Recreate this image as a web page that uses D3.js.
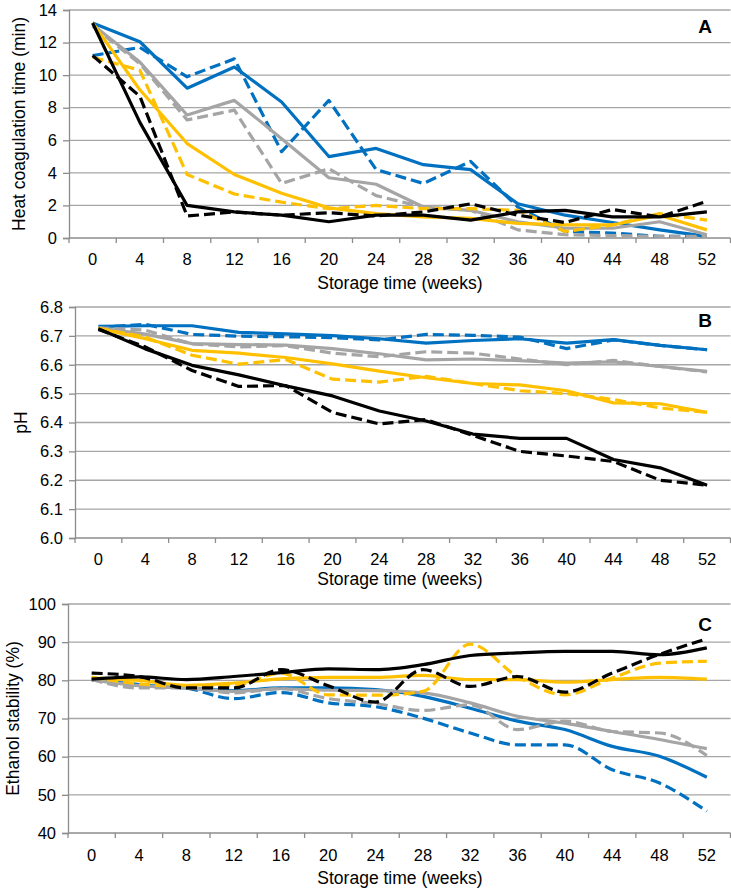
<!DOCTYPE html>
<html>
<head>
<meta charset="utf-8">
<script src="https://cdn.jsdelivr.net/npm/d3@7"></script>
<style>
  html, body { margin: 0; padding: 0; background: #fff; }
  svg { display: block; font-family: "Liberation Sans", Arial, sans-serif; }
</style>
</head>
<body>
<svg id="chart" width="731" height="892"></svg>
<script>
// ---------- DATA ----------
const weeks = [0, 4, 8, 12, 16, 20, 24, 28, 32, 36, 40, 44, 48, 52];

// Panel A: heat coagulation time (min)
const hctBlueSolid   = [13.2, 12.05, 9.2, 10.5, 8.35, 5.0, 5.5, 4.5, 4.2, 2.1, 1.4, 0.95, 0.5, 0.1];
const hctBlueDashed  = [11.2, 11.7, 9.9, 11.0, 5.3, 8.45, 4.2, 3.35, 4.7, 1.9, 0.4, 0.3, 0.1, 0.1];
const hctGraySolid   = [13.1, 10.8, 7.55, 8.45, 6.1, 3.7, 3.3, 1.9, 1.7, 1.0, 0.6, 0.6, 1.0, 0.2];
const hctGrayDashed  = [13.0, 10.7, 7.25, 7.85, 3.35, 4.25, 2.6, 1.9, 1.7, 0.5, 0.2, 0.15, 0.1, 0.1];
const hctYellowSolid = [13.2, 9.1, 5.8, 3.9, 2.75, 1.85, 1.5, 1.3, 1.2, 0.9, 0.8, 0.8, 1.4, 0.5];
const hctYellowDashed= [11.1, 10.3, 3.9, 2.7, 2.2, 1.8, 2.0, 1.8, 1.8, 1.7, 0.4, 0.8, 1.5, 1.1];
const hctBlackSolid  = [13.2, 7.1, 2.0, 1.6, 1.4, 1.0, 1.4, 1.4, 1.1, 1.6, 1.7, 1.3, 1.3, 1.6];
const hctBlackDashed = [11.2, 8.7, 1.35, 1.6, 1.4, 1.55, 1.35, 1.6, 2.1, 1.4, 0.95, 1.75, 1.3, 2.25];

// Panel B: pH
const phBlueSolid   = [6.733, 6.735, 6.735, 6.712, 6.707, 6.701, 6.69, 6.675, 6.684, 6.69, 6.675, 6.687, 6.667, 6.652];
const phBlueDashed  = [6.73, 6.74, 6.705, 6.699, 6.697, 6.694, 6.686, 6.705, 6.702, 6.696, 6.656, 6.686, 6.667, 6.652];
const phGraySolid   = [6.728, 6.706, 6.673, 6.67, 6.668, 6.656, 6.638, 6.617, 6.62, 6.614, 6.606, 6.61, 6.594, 6.577];
const phGrayDashed  = [6.728, 6.72, 6.672, 6.662, 6.666, 6.64, 6.628, 6.645, 6.64, 6.62, 6.6, 6.615, 6.594, 6.575];
const phYellowSolid = [6.726, 6.69, 6.65, 6.64, 6.625, 6.603, 6.578, 6.555, 6.535, 6.53, 6.51, 6.468, 6.465, 6.435];
const phYellowDashed= [6.726, 6.696, 6.633, 6.602, 6.618, 6.55, 6.54, 6.56, 6.535, 6.51, 6.5, 6.48, 6.45, 6.435];
const phBlackSolid  = [6.725, 6.655, 6.598, 6.565, 6.527, 6.492, 6.44, 6.405, 6.36, 6.345, 6.345, 6.272, 6.243, 6.183];
const phBlackDashed = [6.722, 6.662, 6.58, 6.525, 6.528, 6.435, 6.395, 6.41, 6.355, 6.3, 6.284, 6.265, 6.2, 6.183];

// Panel C: ethanol stability (%)
const esBlueSolid   = [80.2, 78.9, 78.0, 77.3, 78.0, 78.0, 77.6, 75.8, 72.7, 69.3, 67.1, 62.7, 60.1, 54.6];
const esBlueDashed  = [80.2, 78.9, 78.0, 75.2, 76.8, 74.1, 73.1, 70.1, 66.2, 63.1, 63.1, 56.6, 53.1, 45.7];
const esGraySolid   = [80.2, 78.6, 78.0, 77.1, 77.8, 77.4, 77.3, 76.7, 74.1, 70.6, 68.8, 66.6, 64.5, 62.1];
const esGrayDashed  = [80.2, 78.0, 78.0, 76.7, 77.8, 75.2, 73.9, 72.1, 73.6, 67.1, 69.3, 66.6, 66.2, 60.3];
const esYellowSolid = [80.6, 80.0, 78.7, 79.3, 80.4, 80.8, 80.8, 81.3, 80.2, 80.2, 79.5, 80.2, 80.8, 80.3];
const esYellowDashed= [80.8, 79.1, 78.4, 78.6, 81.9, 76.2, 76.1, 77.1, 89.5, 81.0, 76.2, 80.6, 84.5, 85.0];
const esBlackSolid  = [80.3, 80.9, 80.2, 81.0, 82.0, 83.0, 82.8, 84.1, 86.5, 87.2, 87.6, 87.6, 86.7, 88.5];
const esBlackDashed = [81.9, 81.0, 78.0, 78.0, 82.8, 78.6, 74.3, 82.8, 78.4, 81.0, 76.9, 81.9, 86.8, 90.9];

const ticksA = [0, 2, 4, 6, 8, 10, 12, 14];
const ticksB = [6.0, 6.1, 6.2, 6.3, 6.4, 6.5, 6.6, 6.7, 6.8];
const ticksC = [40, 50, 60, 70, 80, 90, 100];

const xTitle = "Storage time (weeks)";

// ---------- STYLE ----------
const BLUE = "#0070C0", GRAY = "#A5A5A5", YELLOW = "#FFC000", BLACK = "#000000";
const GRID = "#A6A6A6", AXIS = "#8C8C8C";

const svg = d3.select("#chart");

function panel(cfg) {
  const g = svg.append("g");
  const x = d3.scaleBand().domain(weeks).range([cfg.left, cfg.right]).paddingInner(0).paddingOuter(0);
  const y = d3.scaleLinear().domain(cfg.domain).range([cfg.bottom, cfg.top]);

  // gridlines
  g.append("g").selectAll("line").data(cfg.ticks.slice(1)).join("line")
    .attr("x1", cfg.left).attr("x2", cfg.right)
    .attr("y1", d => y(d)).attr("y2", d => y(d))
    .attr("stroke", GRID).attr("stroke-width", 1.3);

  // y axis
  const ya = g.append("g").attr("transform", `translate(${cfg.left},0)`)
    .call(d3.axisLeft(y).tickValues(cfg.ticks).tickFormat(cfg.fmt).tickSize(6).tickPadding(6));
  ya.select(".domain").attr("stroke", AXIS).attr("stroke-width", 1.3);
  ya.selectAll(".tick line").attr("stroke", AXIS).attr("stroke-width", 1.3);
  ya.selectAll("text").attr("font-size", 16.5).attr("fill", "#000")
    .attr("font-family", "Liberation Sans, Arial, sans-serif");

  // x axis (labels centered on categories, tick marks between categories)
  const xa = g.append("g").attr("transform", `translate(0,${cfg.bottom})`)
    .call(d3.axisBottom(x).tickSize(0).tickPadding(cfg.xPad));
  xa.select(".domain").remove();
  xa.selectAll("text").attr("font-size", 16.5).attr("fill", "#000")
    .attr("font-family", "Liberation Sans, Arial, sans-serif");
  g.append("line").attr("x1", cfg.left).attr("x2", cfg.right)
    .attr("y1", cfg.bottom).attr("y2", cfg.bottom)
    .attr("stroke", AXIS).attr("stroke-width", 1.3);
  const edges = weeks.map(w => x(w)).concat([x(weeks[weeks.length - 1]) + x.bandwidth()]);
  g.append("g").selectAll("line").data(edges).join("line")
    .attr("x1", d => d).attr("x2", d => d)
    .attr("y1", cfg.bottom).attr("y2", cfg.bottom + 5)
    .attr("stroke", AXIS).attr("stroke-width", 1.3);

  // series
  const line = d3.line()
    .x((d, i) => x(weeks[i]) + x.bandwidth() / 2)
    .y(d => y(d))
    .curve(cfg.curve);
  cfg.series.forEach(s => {
    g.append("path").datum(s.values)
      .attr("d", line)
      .attr("fill", "none")
      .attr("stroke", s.color)
      .attr("stroke-width", 3.2)
      .attr("stroke-linejoin", "round")
      .attr("stroke-dasharray", s.dashed ? "11,5" : null);
  });

  // titles
  g.append("text").attr("x", 400).attr("y", cfg.xTitleY)
    .attr("text-anchor", "middle").attr("font-size", 17.5).text(xTitle);
  g.append("text")
    .attr("transform", `translate(${cfg.yTitleX},${(cfg.top + cfg.bottom) / 2}) rotate(-90)`)
    .attr("text-anchor", "middle").attr("font-size", 17.5).text(cfg.yTitle);
  g.append("text").attr("x", 705).attr("y", cfg.letterY)
    .attr("text-anchor", "middle").attr("font-size", 19).attr("font-weight", "bold").text(cfg.letter);
}

panel({
  left: 69, right: 730.5, top: 10, bottom: 238,
  domain: [0, 14], ticks: ticksA, fmt: d3.format("d"),
  xPad: 15, xTitleY: 289, yTitleX: 25, letterY: 33, letter: "A",
  yTitle: "Heat coagulation time (min)", curve: d3.curveLinear,
  series: [
    { values: hctBlueSolid, color: BLUE, dashed: false },
    { values: hctBlueDashed, color: BLUE, dashed: true },
    { values: hctGraySolid, color: GRAY, dashed: false },
    { values: hctGrayDashed, color: GRAY, dashed: true },
    { values: hctYellowSolid, color: YELLOW, dashed: false },
    { values: hctYellowDashed, color: YELLOW, dashed: true },
    { values: hctBlackSolid, color: BLACK, dashed: false },
    { values: hctBlackDashed, color: BLACK, dashed: true }
  ]
});

panel({
  left: 75, right: 730.5, top: 307, bottom: 538,
  domain: [6.0, 6.8], ticks: ticksB, fmt: d3.format(".1f"),
  xPad: 15, xTitleY: 585, yTitleX: 27, letterY: 327, letter: "B",
  yTitle: "pH", curve: d3.curveLinear,
  series: [
    { values: phBlueSolid, color: BLUE, dashed: false },
    { values: phBlueDashed, color: BLUE, dashed: true },
    { values: phGraySolid, color: GRAY, dashed: false },
    { values: phGrayDashed, color: GRAY, dashed: true },
    { values: phYellowSolid, color: YELLOW, dashed: false },
    { values: phYellowDashed, color: YELLOW, dashed: true },
    { values: phBlackSolid, color: BLACK, dashed: false },
    { values: phBlackDashed, color: BLACK, dashed: true }
  ]
});

panel({
  left: 68, right: 730.5, top: 604, bottom: 833,
  domain: [40, 100], ticks: ticksC, fmt: d3.format("d"),
  xPad: 16, xTitleY: 884, yTitleX: 19, letterY: 631, letter: "C",
  yTitle: "Ethanol stability (%)", curve: d3.curveMonotoneX,
  series: [
    { values: esBlueSolid, color: BLUE, dashed: false },
    { values: esBlueDashed, color: BLUE, dashed: true },
    { values: esGraySolid, color: GRAY, dashed: false },
    { values: esGrayDashed, color: GRAY, dashed: true },
    { values: esYellowSolid, color: YELLOW, dashed: false },
    { values: esYellowDashed, color: YELLOW, dashed: true },
    { values: esBlackSolid, color: BLACK, dashed: false },
    { values: esBlackDashed, color: BLACK, dashed: true }
  ]
});
</script>
</body>
</html>
